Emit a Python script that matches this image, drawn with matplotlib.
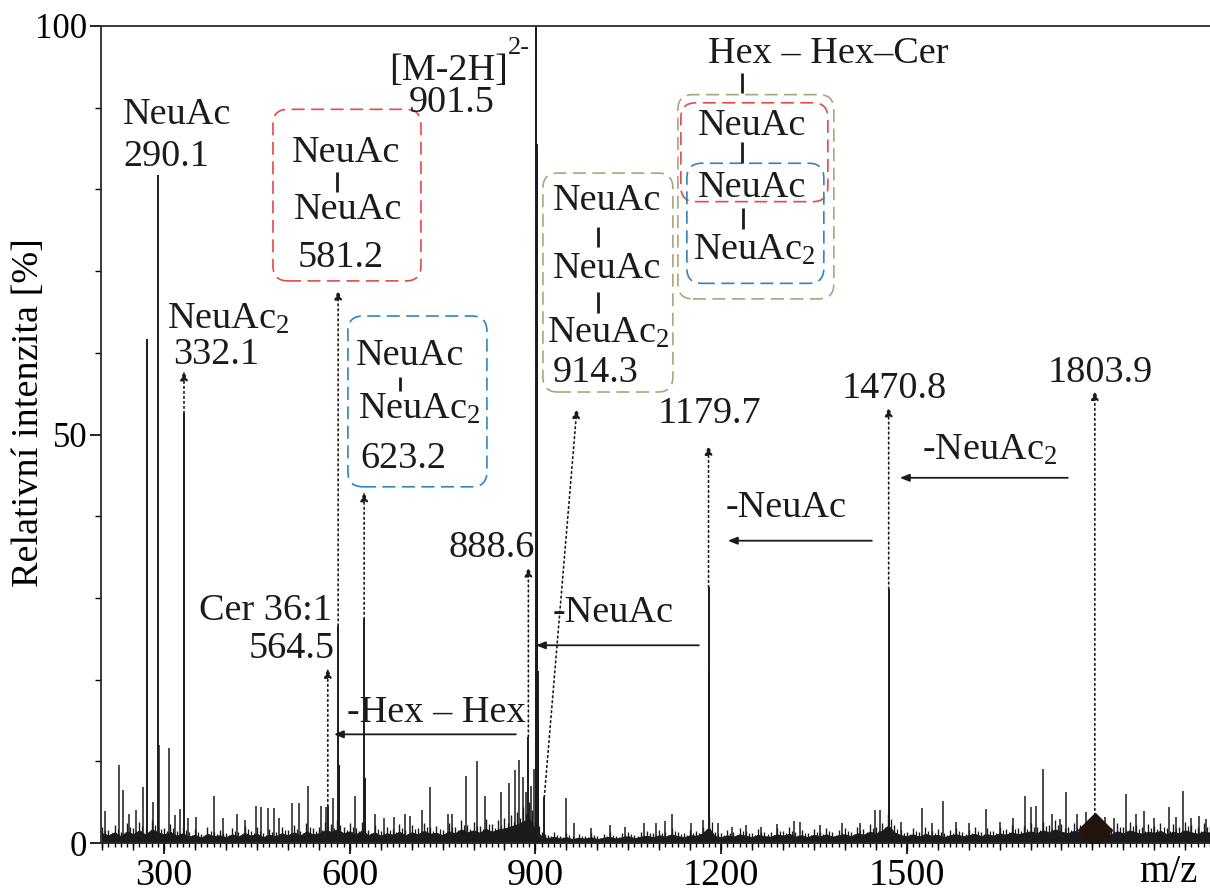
import numpy as np
import matplotlib
matplotlib.use("Agg")
import matplotlib.pyplot as plt
from matplotlib.patches import FancyBboxPatch
from matplotlib.ticker import MultipleLocator, FixedLocator

plt.rcParams["font.family"] = ["Liberation Serif", "DejaVu Serif"]
plt.rcParams["mathtext.fontset"] = "custom"
plt.rcParams["mathtext.rm"] = "Liberation Serif"
plt.rcParams["mathtext.it"] = "Liberation Serif:italic"
plt.rcParams["mathtext.default"] = "regular"

INK = "#1c1a1b"
RED = "#e5494b"
BLUE = "#3384b8"
OLIVE = "#a9a67c"
FS = 27.5

# --- spektrum: hlavni piky (m/z, relativni intenzita %) ---
peak_mz = [272.0, 290.1, 332.1, 564.5, 581.2, 582.2, 623.2, 624.2, 888.6,
           900.5, 901.5, 902.0, 902.5, 903.0, 903.5, 904.0, 914.3,
           1179.7, 1180.2, 1180.7, 1470.8, 1471.3, 1803.9]
peak_int = [61.7, 81.8, 52.6, 4.5, 26.6, 9.5, 27.4, 8.0, 13.0,
            22.0, 100.0, 85.5, 84.0, 55.0, 21.0, 14.4, 5.6,
            31.3, 21.0, 8.0, 31.1, 9.8, 3.0]

# mensi piky v sumu
noise_mz = [205, 227, 233, 243, 254, 266, 282, 291.7, 307.9, 318, 326, 338,
            352, 380, 395, 417, 430, 448.5, 457, 468, 477, 485, 506, 517.7,
            532, 553, 561.5, 573, 608, 640, 655, 672, 688.6, 697, 717, 730,
            758, 765, 788, 805, 818, 845, 857, 867, 873, 880, 885, 893, 897,
            950, 962, 990, 1020, 1045, 1075, 1095, 1110, 1121, 1152, 1170,
            1195, 1217, 1240, 1265, 1290, 1318, 1327, 1360, 1395, 1424, 1448,
            1456, 1490, 1524, 1540, 1558, 1580, 1600, 1628, 1650, 1672, 1691,
            1700, 1709, 1720, 1735, 1747, 1758, 1775, 1790, 1820, 1835, 1854,
            1870, 1884, 1900, 1923, 1935, 1947, 1960, 1972, 1983]
noise_int = [3.9, 9.6, 6.5, 3.5, 4.0, 6.9, 5.0, 12.0, 11.6, 3.4, 4.2, 3.0,
             3.2, 5.7, 3.0, 3.5, 2.8, 4.5, 4.4, 4.3, 4.3, 3.1, 4.9, 4.9,
             7.0, 4.5, 4.4, 5.5, 5.8, 3.5, 3.0, 3.2, 3.5, 3.3, 4.0, 6.9,
             3.5, 3.5, 8.2, 10.0, 5.7, 6.2, 7.3, 8.9, 10.1, 8.1, 6.2, 7.0, 9.0,
             5.5, 2.5, 1.8, 2.2, 2.0, 2.4, 2.5, 2.7, 3.6, 2.4, 2.8,
             2.4, 2.0, 2.2, 2.0, 2.3, 2.7, 2.6, 2.2, 2.4, 2.5, 4.1,
             4.0, 2.6, 4.3, 2.4, 5.1, 2.6, 2.4, 4.2, 2.6, 3.0, 5.7,
             4.4, 4.5, 9.0, 3.5, 2.9, 6.2, 3.5, 3.8, 3.2, 3.0, 6.0,
             3.5, 3.9, 3.0, 4.4, 3.2, 6.4, 3.0, 3.3, 2.9]

# obalka sumu po 10 m/z (200 - 1990)
base_start, base_step = 200, 10
base_int = [
    2.0, 1.6, 2.2, 1.4, 2.4, 1.8, 2.6, 1.7, 2.8, 2.2,
    1.8, 2.3, 1.5, 2.0, 1.3, 1.7, 1.1, 1.9, 1.4, 1.6,
    1.2, 1.8, 1.3, 2.1, 1.5, 1.9, 1.2, 1.7, 1.4, 2.0,
    1.6, 2.2, 1.5, 2.4, 1.8, 2.0, 2.6, 2.3, 2.8, 2.0,
    2.4, 1.8, 2.6, 1.6, 2.2, 1.5, 2.0, 1.7, 2.3, 1.6,
    2.2, 1.8, 2.5, 1.9, 2.1, 1.6, 2.4, 2.0, 2.8, 2.2,
    2.6, 2.1, 2.9, 2.3, 2.8, 3.0, 3.4, 3.8, 4.4, 5.0,
    2.6, 1.4, 1.0, 1.3, 0.9, 1.2, 0.8, 1.1, 0.9, 1.2,
    0.8, 1.1, 1.3, 0.9, 1.2, 1.4, 1.0, 1.3, 1.5, 1.2,
    1.6, 1.3, 1.8, 1.4, 1.2, 1.6, 1.5, 2.0, 3.2, 1.4,
    1.2, 1.6, 1.3, 1.8, 1.5, 1.2, 1.7, 1.4, 1.3, 1.8,
    1.5, 1.9, 1.3, 1.6, 1.2, 1.7, 1.4, 1.8, 1.3, 1.6,
    1.8, 1.4, 2.0, 1.7, 2.3, 2.0, 2.5, 3.6, 2.2, 1.6,
    1.4, 1.8, 1.3, 1.9, 1.5, 1.7, 1.2, 1.6, 1.8, 1.4,
    1.6, 1.9, 1.4, 1.8, 1.5, 2.0, 1.7, 2.2, 1.8, 2.1,
    2.4, 2.0, 2.6, 2.2, 2.8, 2.3, 2.0, 2.5, 2.2, 2.4,
    2.0, 2.6, 2.2, 1.8, 2.4, 2.0, 2.6, 2.2, 1.9, 2.3,
    2.1, 2.5, 1.8, 2.3, 2.0, 2.6, 2.2, 1.9, 2.4, 2.1,
]

# popsane ionty: m/z, vyska konce sipky, x konce sipky
ion_mz = [332.1, 564.5, 581.2, 623.2, 888.6, 914.3, 1179.7, 1470.8, 1803.9]
ion_tip = [57.8, 21.4, 67.7, 43.0, 33.8, 53.2, 48.7, 53.4, 55.4]
ion_tip_x = [332.1, 564.5, 581.2, 623.2, 888.6, 967.0, 1179.7, 1470.8, 1803.9]

# odstepy (neutralni ztraty)
loss_from = [868.4, 1164.1, 1443.6, 1760.2]
loss_to = [574.4, 900.8, 1210.9, 1488.8]
loss_y = [13.3, 24.2, 37.0, 44.7]
loss_text = ["-Hex \u2013 Hex", "-NeuAc", "-NeuAc", "-NeuAc$_2$"]
loss_text_x = [595.4, 928.2, 1207.7, 1524.3]
loss_text_y = [14.8, 27.0, 39.9, 46.9]

xtick_pos = [300, 600, 900, 1200, 1500]

#-------------------------------------------------------------------------------
fig = plt.figure(figsize=(12.1, 8.94), dpi=100)
ax = fig.add_axes([101 / 1210, 51 / 894, 1109 / 1210, 817 / 894])
ax.set_xlim(198, 1990)
ax.set_ylim(0, 100)

base_mz = base_start + base_step * np.arange(len(base_int))
base_int = np.array(base_int)
ax.fill_between(base_mz, 0, 0.6 * base_int, color=INK, lw=0.6)
ax.vlines(base_mz, 0, base_int, color=INK, lw=1.0)
ax.vlines(base_mz + 5, 0, 0.8 * base_int, color=INK, lw=0.9)
ax.vlines(noise_mz, 0, noise_int, color=INK, lw=1.1)
ax.vlines(peak_mz, 0, peak_int, color=INK, lw=1.4)
ax.plot([1803.9], [1.6], marker="D", ms=17, color="#21160f", zorder=4)

# teckovane sipky k popiskum
for mz, tip, tx in zip(ion_mz, ion_tip, ion_tip_x):
    if mz == 1803.9:
        start = 3.4
    else:
        start = peak_int[peak_mz.index(mz)]
    ax.annotate("", xy=(tx, tip), xytext=(mz, start),
                arrowprops=dict(arrowstyle="-|>,head_length=0.55,head_width=0.22",
                                linestyle=(0, (1, 2)), lw=1.2, color=INK,
                                shrinkA=0, shrinkB=0))

# plne sipky ztrat
for x0, x1, y, s, tx, ty in zip(loss_from, loss_to, loss_y, loss_text,
                                loss_text_x, loss_text_y):
    ax.annotate("", xy=(x1, y), xytext=(x0, y),
                arrowprops=dict(arrowstyle="-|>,head_length=0.55,head_width=0.22",
                                lw=1.3, color=INK, shrinkA=0, shrinkB=0))
    ax.text(tx, ty, s, fontsize=FS, va="baseline", ha="left", color=INK)


def label(x, y, s, ha="left", fs=FS):
    ax.text(x, y, s, fontsize=fs, ha=ha, va="baseline", color=INK)


def link(x, y0, y1):
    ax.plot([x, x], [y0, y1], color=INK, lw=2.0, solid_capstyle="butt")


# zaoblene ramecky - zaobleni prepocitane na pixely
p = ax.transData.transform([(0, 0), (1, 1)])
aspect = (p[1, 0] - p[0, 0]) / (p[1, 1] - p[0, 1])
rad = 15 / (p[1, 0] - p[0, 0])


def box(x0, x1, y0, y1, color):
    ax.add_patch(FancyBboxPatch((x0, y0), x1 - x0, y1 - y0,
                                boxstyle=f"round,pad=0,rounding_size={rad}",
                                mutation_aspect=aspect, fill=False,
                                ec=color, lw=1.2, linestyle=(0, (7.8, 3.9))))


# NeuAc 290.1 a NeuAc2 332.1
label(233.6, 88.0, "NeuAc")
label(233.6, 82.9, "290.1")
label(304.6, 63.0, "NeuAc$_2$")
label(314.3, 58.6, "332.1")

# 581.2
box(475.9, 715.0, 68.8, 89.8, RED)
label(593.8, 83.4, "NeuAc", ha="center")
link(579.3, 82.1, 79.7)
label(597.0, 76.4, "NeuAc", ha="center")
label(585.7, 70.5, "581.2", ha="center")

# [M-2H]2- 901.5
label(663.3, 93.4, "[M-2H]")
label(855.5, 96.6, "2-", fs=19)
label(695.6, 89.5, "901.5")

# 623.2
box(597.0, 821.6, 43.6, 64.5, BLUE)
label(697.2, 58.5, "NeuAc", ha="center")
link(681.1, 57.0, 55.3)
label(613.2, 52.0, "NeuAc$_2$")
label(616.4, 45.9, "623.2")

# 914.3
box(912.1, 1122.1, 55.2, 82.0, OLIVE)
label(1015.5, 77.5, "NeuAc", ha="center")
link(1000.9, 75.4, 73.0)
label(1015.5, 69.2, "NeuAc", ha="center")
link(1000.9, 67.4, 64.9)
label(918.5, 61.2, "NeuAc$_2$")
label(928.2, 56.4, "914.3")

# struktura gangliosidu
label(1178.6, 95.5, "Hex \u2013 Hex\u2013Cer")
link(1233.5, 94.2, 91.8)
box(1130.2, 1382.2, 66.6, 91.6, OLIVE)
box(1135.0, 1372.5, 78.5, 90.6, RED)
box(1144.7, 1366.0, 68.5, 83.2, BLUE)
label(1250.5, 86.7, "NeuAc", ha="center")
link(1233.5, 85.8, 83.2)
label(1250.5, 79.1, "NeuAc", ha="center")
link(1235.1, 77.7, 75.2)
label(1154.4, 71.4, "NeuAc$_2$")

# Cer 36:1
label(571.2, 27.3, "Cer 36:1", ha="right")
label(576.1, 22.6, "564.5", ha="right")
label(899.1, 35.0, "888.6", ha="right")
label(1181.9, 51.4, "1179.7", ha="center")
label(1479.1, 54.5, "1470.8", ha="center")
label(1811.9, 56.4, "1803.9", ha="center")

#-------------------------------------------------------------------------------
ax.spines["right"].set_visible(False)
for s in ["left", "top", "bottom"]:
    ax.spines[s].set_linewidth(1.3)
    ax.spines[s].set_color("#2a2a2a")

ax.xaxis.set_major_locator(FixedLocator(xtick_pos))
ax.xaxis.set_minor_locator(MultipleLocator(10))
ax.yaxis.set_major_locator(MultipleLocator(50))
ax.yaxis.set_minor_locator(MultipleLocator(10))
ax.tick_params(axis="x", which="major", length=8, width=1.2, pad=3,
               labelsize=27.5, direction="out")
ax.tick_params(axis="x", which="minor", length=3, width=1.0, direction="out")
ax.tick_params(axis="y", which="major", length=8, width=1.2, pad=2,
               labelsize=25, direction="out")
ax.tick_params(axis="y", which="minor", length=4, width=1.0, direction="out")

sec = ax.secondary_xaxis("bottom")
sec.xaxis.set_major_locator(MultipleLocator(50))
sec.tick_params(length=5, width=1.0, labelbottom=False)
sec.spines["bottom"].set_visible(False)

ax.set_xlabel("m/z", fontsize=28)
ax.xaxis.set_label_coords(0.962, -0.013)
ax.set_ylabel("Relativní intenzita [%]", fontsize=27.5)
ax.yaxis.set_label_coords(-0.05, 0.527)

fig.savefig("out.png", dpi=100)
